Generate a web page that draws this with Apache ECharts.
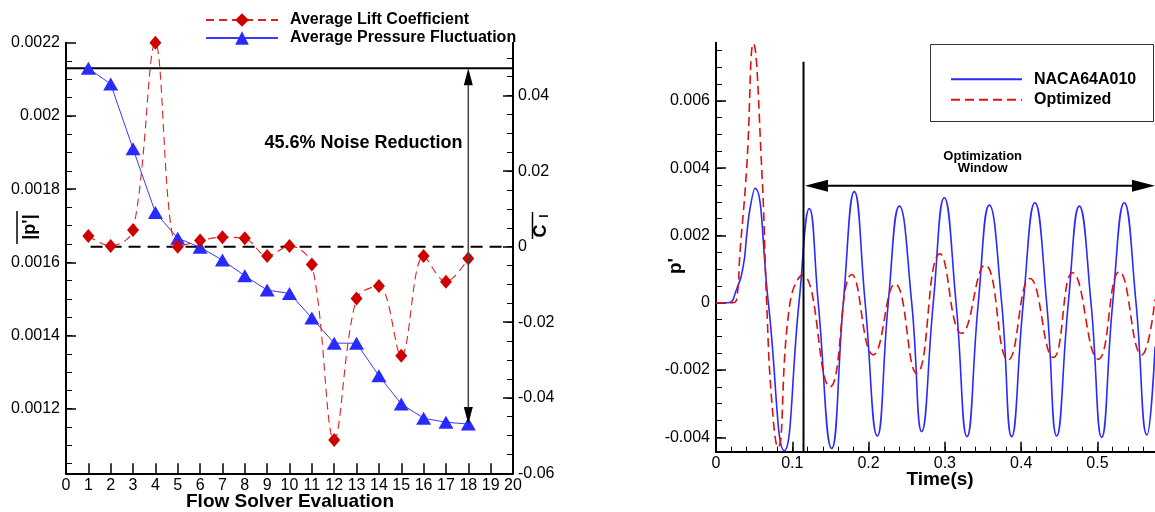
<!DOCTYPE html>
<html><head><meta charset="utf-8">
<script src="https://cdn.jsdelivr.net/npm/echarts@6/dist/echarts.min.js"></script>
<style>html,body{margin:0;padding:0;background:#fff}#c{width:1155px;height:512px}</style>
</head><body><div id="c"></div>
<script>
// ---------- Left chart data ----------
const evaluations = [1,2,3,4,5,6,7,8,9,10,11,12,13,14,15,16,17,18];
const liftCoef = [0.00283,0.0002,0.0044,0.054,0.0,0.0016,0.0025,0.0022,-0.0025,0.0002,-0.0047,-0.0512,-0.0137,-0.0104,-0.0289,-0.0025,-0.0093,-0.0031];
const pressFluct = [0.00213,0.002087,0.00191,0.001736,0.001666,0.001641,0.001606,0.001563,0.001524,0.001515,0.001448,0.001379,0.001379,0.00129,0.001213,0.001174,0.001163,0.001158];
const pTickLabels = [0.0012,0.0014,0.0016,0.0018,0.002,0.0022];
const clTickLabels = [-0.06,-0.04,-0.02,0,0.02,0.04];
const zeroLineRange = [1.1, 19.56];
const arrowEval = 18;
const noteText = '45.6% Noise Reduction';

// ---------- Right chart data ----------
const tBase = [0,0.016,0.027,0.0358,0.0402,0.0446,0.0511,0.0686,0.0895,0.1088,0.1223,0.134,0.1516,0.1669,0.1813,0.1955,0.2114,0.2258,0.2403,0.2565,0.2696,0.2848,0.2992,0.3146,0.329,0.3438,0.3582,0.3744,0.3875,0.4028,0.418,0.4334,0.4465,0.4618,0.4762,0.4915,0.5055,0.52,0.5351,0.5505,0.5648,0.5755];
const pBase = [0,0,0.0004,0.0011,0.002,0.0028,0.0034,0,-0.0044,0,0.0028,0,-0.00433,0,0.0033,0,-0.00396,0,0.00287,0,-0.00383,0,0.00312,0,-0.00398,0,0.0029,0,-0.00398,0,0.00297,0,-0.00396,0,0.00287,0,-0.004,0,0.00297,0,-0.00393,-0.0013];
const tOpt = [0,0.022,0.027,0.0315,0.0402,0.049,0.0599,0.0664,0.073,0.081,0.097,0.1136,0.1494,0.178,0.2062,0.2346,0.263,0.2936,0.322,0.3526,0.383,0.4115,0.442,0.4675,0.501,0.5286,0.558,0.5755];
const pOpt = [0,0,0.0001,0.0015,0.004,0.0077,0.004,0,-0.0029,-0.0043,0,0.00082,-0.0025,0.00084,-0.00155,0.00056,-0.0021,0.00145,-0.00091,0.00112,-0.0017,0.00072,-0.00163,0.00089,-0.00168,0.00092,-0.00155,0.0001];
const timeTickLabels = [0,0.1,0.2,0.3,0.4,0.5];
const pPrimeTickLabels = [-0.004,-0.002,0,0.002,0.004,0.006];
const windowLineT = 0.1147;
const windowLineTop = 0.00716;
const windowArrow = [0.1166, 0.5754, 0.003477];

// ---------- helpers ----------
const F = '"Liberation Sans", Arial, Helvetica, sans-serif';
const fmt = v => String(parseFloat(Number(v).toFixed(6)));
function steps(a, b, s){ const r=[]; const n=Math.round((b-a)/s); for(let i=0;i<=n;i++) r.push(parseFloat((a+i*s).toFixed(7))); return r; }
const pMinor = steps(0.00105, 0.00215, 0.00005);
const clMinor = steps(-0.055, 0.05, 0.005);
const ppMinor = steps(-0.004, 0.0075, 0.0005);
const tMinor = steps(0.02, 0.56, 0.02);

const P_MIN = 0.0010235, P_MAX = 0.0022;
const CL_MIN = -0.06, CL_MAX = 0.054;
const T_MIN = 0, T_MAX = 0.5754;
const PP_MIN = -0.004428, PP_MAX = 0.007727;

const axLine = {show:true, onZero:false, lineStyle:{color:'#000', width:2}};
const noLine = {show:false, onZero:false};
const lab = (extra) => Object.assign({show:true, color:'#000', fontSize:16, fontFamily:F, formatter:fmt}, extra);
const tick = (len, w, vals) => { const t = {show:true, inside:true, length:len, lineStyle:{color:'#000', width:w}}; if (vals) t.customValues = vals; return t; };
const CLEAR = 'rgba(0,0,0,0)';

const chart = echarts.init(document.getElementById('c'), null, {renderer:'canvas'});

const option = {
  backgroundColor:'#fff',
  animation:false,
  grid:[
    {left:66, top:42.7, width:447, height:430.6, outerBoundsMode:'none', containLabel:false},
    {left:716, top:42.7, width:439, height:409, outerBoundsMode:'none', containLabel:false}
  ],
  legend:[
    {data:['Average Lift Coefficient','Average Pressure Fluctuation'], orient:'vertical', left:205, top:12, padding:0,
     itemWidth:72, itemHeight:17, itemGap:2, selectedMode:false,
     textStyle:{fontSize:16, fontWeight:'bold', fontFamily:F, color:'#000', padding:[0,0,0,7]}},
    {data:['NACA64A010','Optimized'], orient:'vertical', left:950, top:71.3, padding:0,
     itemWidth:71, itemHeight:14, itemGap:4.4, selectedMode:false,
     itemStyle:{color:CLEAR, borderColor:CLEAR, borderWidth:0, opacity:0},
     textStyle:{fontSize:16, fontWeight:'bold', fontFamily:F, color:'#000', padding:[0,0,0,7]}}
  ],
  xAxis:[
    {gridIndex:0, type:'value', min:0, max:20, interval:1, position:'bottom', axisLine:axLine,
     axisTick:tick(10, 1.5), axisLabel:lab({margin:4, interval:0, hideOverlap:false}), splitLine:{show:false}},
    {gridIndex:1, type:'value', min:T_MIN, max:T_MAX, position:'bottom', axisLine:axLine,
     axisTick:tick(10, 1.5, timeTickLabels), axisLabel:lab({margin:4, customValues:timeTickLabels}), splitLine:{show:false}},
    {gridIndex:1, type:'value', min:T_MIN, max:T_MAX, position:'bottom', axisLine:noLine,
     axisTick:tick(5, 1, tMinor), axisLabel:{show:false}, splitLine:{show:false}}
  ],
  yAxis:[
    {gridIndex:0, type:'value', min:P_MIN, max:P_MAX, position:'left', axisLine:axLine,
     axisTick:tick(10, 1.5, pTickLabels), axisLabel:lab({margin:6, customValues:pTickLabels}), splitLine:{show:false}},
    {gridIndex:0, type:'value', min:CL_MIN, max:CL_MAX, position:'right', axisLine:axLine,
     axisTick:tick(10, 1.5, clTickLabels), axisLabel:lab({margin:5, customValues:clTickLabels}), splitLine:{show:false}},
    {gridIndex:0, type:'value', min:P_MIN, max:P_MAX, position:'left', axisLine:noLine,
     axisTick:tick(6, 1, pMinor), axisLabel:{show:false}, splitLine:{show:false}},
    {gridIndex:0, type:'value', min:CL_MIN, max:CL_MAX, position:'right', axisLine:noLine,
     axisTick:tick(6, 1, clMinor), axisLabel:{show:false}, splitLine:{show:false}},
    {gridIndex:1, type:'value', min:PP_MIN, max:PP_MAX, position:'left', axisLine:axLine,
     axisTick:tick(10, 1.5, pPrimeTickLabels), axisLabel:lab({margin:6, customValues:pPrimeTickLabels}), splitLine:{show:false}},
    {gridIndex:1, type:'value', min:PP_MIN, max:PP_MAX, position:'left', axisLine:noLine,
     axisTick:tick(6, 1, ppMinor), axisLabel:{show:false}, splitLine:{show:false}}
  ],
  series:[
    {name:'Average Pressure Fluctuation', type:'line', xAxisIndex:0, yAxisIndex:0,
     data:evaluations.map((e,i)=>[e, pressFluct[i]]), symbol:'triangle', symbolSize:[15,13],
     itemStyle:{color:'#2a2aff'}, lineStyle:{color:'#3a3aff', width:1}, clip:false, z:3},
    {name:'Average Lift Coefficient', type:'line', xAxisIndex:0, yAxisIndex:1,
     data:evaluations.map((e,i)=>[e, liftCoef[i]]), smooth:0.35, symbol:'diamond', symbolSize:[12,14],
     itemStyle:{color:'#d00000'}, lineStyle:{color:'#e02020', width:1.1, type:[8,5]}, clip:false, z:4},
    {name:'ref', type:'line', xAxisIndex:0, yAxisIndex:0, symbol:'none', silent:true,
     data:[[0, pressFluct[0]],[20, pressFluct[0]]], lineStyle:{color:'#000', width:2}, z:2},
    {name:'zero', type:'line', xAxisIndex:0, yAxisIndex:1, symbol:'none', silent:true,
     data:[[zeroLineRange[0],0],[zeroLineRange[1],0]], lineStyle:{color:'#000', width:2, type:[12,7]}, z:2},
    {name:'arrowV', type:'custom', xAxisIndex:0, yAxisIndex:0, silent:true, clip:false, z:5,
     data:[[arrowEval, pressFluct[0], pressFluct[pressFluct.length-1]]],
     renderItem:(params, api)=>{
       const a = api.coord([api.value(0), api.value(1)]);
       const b = api.coord([api.value(0), api.value(2)]);
       const h = 17, w = 4.5;
       return {type:'group', children:[
         {type:'line', shape:{x1:a[0], y1:a[1]+h, x2:b[0], y2:b[1]-h}, style:{stroke:'#444', lineWidth:1.5}},
         {type:'polygon', shape:{points:[[a[0],a[1]],[a[0]-w,a[1]+h],[a[0]+w,a[1]+h]]}, style:{fill:'#000'}},
         {type:'polygon', shape:{points:[[b[0],b[1]],[b[0]-w,b[1]-h],[b[0]+w,b[1]-h]]}, style:{fill:'#000'}}
       ]};
     }},
    {name:'NACA64A010', type:'line', xAxisIndex:1, yAxisIndex:4, symbol:'circle', showSymbol:false, smooth:0.5,
     data:tBase.map((t,i)=>[t, pBase[i]]), lineStyle:{color:'#2a2aff', width:1.6}, itemStyle:{color:'#2a2aff'}, z:3},
    {name:'Optimized', type:'line', xAxisIndex:1, yAxisIndex:4, symbol:'circle', showSymbol:false, smooth:0.5,
     data:tOpt.map((t,i)=>[t, pOpt[i]]), lineStyle:{color:'#e01010', width:1.6, type:[9,5]}, itemStyle:{color:'#e01010'}, z:4},
    {name:'windowLine', type:'line', xAxisIndex:1, yAxisIndex:4, symbol:'none', silent:true,
     data:[[windowLineT, windowLineTop],[windowLineT, PP_MIN]], lineStyle:{color:'#000', width:2}, z:5},
    {name:'arrowH', type:'custom', xAxisIndex:1, yAxisIndex:4, silent:true, clip:false, z:5,
     data:[windowArrow],
     renderItem:(params, api)=>{
       const a = api.coord([api.value(0), api.value(2)]);
       const b = api.coord([api.value(1), api.value(2)]);
       const L = 23, w = 6;
       return {type:'group', children:[
         {type:'line', shape:{x1:a[0]+L, y1:a[1], x2:b[0]-L, y2:b[1]}, style:{stroke:'#000', lineWidth:2}},
         {type:'polygon', shape:{points:[[a[0],a[1]],[a[0]+L,a[1]-w],[a[0]+L,a[1]+w]]}, style:{fill:'#000'}},
         {type:'polygon', shape:{points:[[b[0],b[1]],[b[0]-L,b[1]-w],[b[0]-L,b[1]+w]]}, style:{fill:'#000'}}
       ]};
     }}
  ],
  graphic:[
    {type:'text', x:363.5, y:143.3, style:{text:noteText, font:'bold 18px '+F, fill:'#000', align:'center', verticalAlign:'middle'}},
    {type:'text', x:290, y:501.5, style:{text:'Flow Solver Evaluation', font:'bold 19px '+F, fill:'#000', align:'center', verticalAlign:'middle'}},
    {type:'text', x:30, y:227, rotation:Math.PI/2, style:{text:"|p'|", font:'bold 18px '+F, fill:'#000', align:'center', verticalAlign:'middle'}},
    {type:'line', shape:{x1:17, y1:211, x2:17, y2:244}, style:{stroke:'#000', lineWidth:1.5}},
    {type:'text', x:541, y:231, rotation:Math.PI/2, style:{text:'C', font:'bold 18px '+F, fill:'#000', align:'center', verticalAlign:'middle'}},
    {type:'text', x:545, y:216, rotation:Math.PI/2, style:{text:'l', font:'bold 12px '+F, fill:'#000', align:'center', verticalAlign:'middle'}},
    {type:'line', shape:{x1:532.5, y1:212, x2:532.5, y2:239}, style:{stroke:'#000', lineWidth:1.5}},
    {type:'rect', shape:{x:930.5, y:44.5, width:223, height:77}, style:{fill:'none', stroke:'#333', lineWidth:1}},
    {type:'text', x:982.7, y:156, style:{text:'Optimization', font:'bold 13px '+F, fill:'#000', align:'center', verticalAlign:'middle'}},
    {type:'text', x:982.7, y:168, style:{text:'Window', font:'bold 13px '+F, fill:'#000', align:'center', verticalAlign:'middle'}},
    {type:'text', x:940, y:480, style:{text:'Time(s)', font:'bold 19px '+F, fill:'#000', align:'center', verticalAlign:'middle'}},
    {type:'text', x:676, y:266, rotation:Math.PI/2, style:{text:"p'", font:'bold 19px '+F, fill:'#000', align:'center', verticalAlign:'middle'}}
  ]
};
chart.setOption(option);
</script>
</body></html>
